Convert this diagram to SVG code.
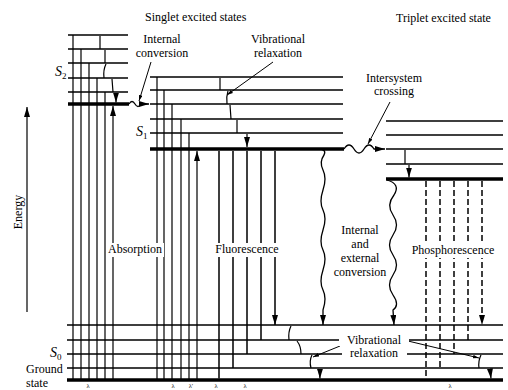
<svg xmlns="http://www.w3.org/2000/svg" width="508" height="390" viewBox="0 0 508 390">
<style>
.t{font-family:"Liberation Serif","Times New Roman",serif;font-size:12px;fill:#000}
.s{font-family:"Liberation Serif","Times New Roman",serif;font-size:14px;font-style:italic;fill:#000}
.sub{font-style:normal;font-size:9px}
.lam{font-family:"Liberation Serif","Times New Roman",serif;font-size:6.5px;fill:#000;text-anchor:middle}
.lv{stroke:#000;stroke-width:1.4;fill:none}
.th{stroke:#000;stroke-width:3.4;fill:none}
.ar{stroke:#000;stroke-width:1.2;fill:none;marker-end:url(#ah)}
.fl{stroke:#000;stroke-width:1.5;fill:none;marker-end:url(#ah)}
.ph{stroke:#000;stroke-width:1.5;fill:none;stroke-dasharray:6 3;marker-end:url(#ah)}
.vr{stroke:#000;stroke-width:1.2;fill:none;marker-end:url(#ah)}
.wv{stroke:#000;stroke-width:1.3;fill:none;marker-end:url(#ah)}
.co{stroke:#000;stroke-width:1;fill:none;marker-end:url(#sm)}
.bg{fill:#fff}
</style>
<defs>
<marker id="ah" viewBox="0 0 10 6" refX="10" refY="3" markerWidth="10" markerHeight="6" markerUnits="userSpaceOnUse" orient="auto"><path d="M0,0 L10,3 L0,6 z" fill="#000"/></marker>
<marker id="sm" viewBox="0 0 10 6" refX="10" refY="3" markerWidth="6" markerHeight="4" markerUnits="userSpaceOnUse" orient="auto"><path d="M0,0 L10,3 L0,6 z" fill="#000"/></marker>
</defs>
<rect width="508" height="390" fill="#fff"/>

<g id="S2-levels">
<path class="lv" d="M68,35H128M68,49H128M68,63H128M68,78H128M68,92H128"/>
<path class="th" d="M68,104H129"/>
</g>
<g id="S1-levels">
<path class="lv" d="M150,77H343M150,90H343M150,104H343M150,119H343M150,133H343"/>
<path class="th" d="M150,149H344"/>
</g>
<g id="T1-levels">
<path class="lv" d="M386,121H503M386,135H503M386,149H503M386,164H503"/>
<path class="th" d="M386,179H503"/>
</g>
<g id="S0-levels">
<path class="lv" d="M67,325H503M67,340H503M67,354H503M67,368H503"/>
<path class="th" d="M67,380H503"/>
</g>

<g id="connectors">
<path class="ar" d="M27,312V107"/>
<path class="ar" d="M73,379V35M81,379V49M89,379V63M97,379V78M105,379V92M113,379V106"/>
<path class="ar" d="M157,379V77M164,379V90M172,379V104M181,379V119M189,379V133M197,379V151"/>
<path class="vr" d="M100,36V49M105,50V63M106,64Q103,70 104,78M112,79L113,92M116,93V102.5"/>
<path class="vr" d="M220,78V90M228,91Q226,97 227,104M230,105L231,119M237,120V133M247,134V147"/>
<path class="vr" d="M405,150V164M409,165V177.5"/>
<path class="wv" d="M129,104q3,-5 6,0t6,0L149,104"/>
<path class="wv" d="M344,149q5,-8 10,0t10,0t10,0L385,149"/>
<path class="fl" d="M219,151V378.5M233,151V368M247,151V354M261,151V340M275,151V325"/>
<path class="ph" d="M426,181V378.5M440,181V368M454,181V354M468,181V340M482,181V325"/>
<path class="wv" d="M318,149Q327,149 324,155Q319,162 323,170T323,190T323,210T323,230T323,250T323,270T323,290T323,310L323,325"/>
<path class="wv" d="M387,180Q401,184 394,195Q386,205 393,215T393,235T393,255T393,275T393,295T393,310L394,325"/>
<path class="vr" d="M291,326Q288,332 289,340M297,341Q301,346 301,354M312,355Q309,361 311,368M318,369Q320,373 320,378.5"/>
<path class="vr" d="M481,355Q478,361 479,368M490,369L491,378.5"/>
<path class="co" d="M151,62L139,101"/>
<path class="co" d="M273,62L227,95"/>
<path class="co" d="M390,102L368,144"/>
<path class="co" d="M340,346L313,357"/>
<path class="co" d="M408,341L479,358"/>
</g>

<g id="labels">
<text class="t" x="145" y="21">Singlet excited states</text>
<text class="t" x="396" y="22">Triplet excited state</text>
<text class="t" x="162" y="43" text-anchor="middle">Internal</text>
<text class="t" x="162" y="57" text-anchor="middle">conversion</text>
<text class="t" x="278" y="43" text-anchor="middle">Vibrational</text>
<text class="t" x="278" y="57" text-anchor="middle">relaxation</text>
<text class="t" x="394" y="82" text-anchor="middle">Intersystem</text>
<text class="t" x="394" y="95" text-anchor="middle">crossing</text>
<text class="s" x="55" y="76">S<tspan class="sub" dy="3">2</tspan></text>
<text class="s" x="136" y="136">S<tspan class="sub" dy="3">1</tspan></text>
<text class="s" x="50" y="357">S<tspan class="sub" dy="3">0</tspan></text>
<text class="t" x="26" y="373">Ground</text>
<text class="t" x="26" y="387">state</text>
<text class="t" x="22" y="212" text-anchor="middle" font-size="11" transform="rotate(-90 22 212)">Energy</text>
<rect class="bg" x="106" y="243" width="58" height="14"/>
<text class="t" x="135" y="253" text-anchor="middle">Absorption</text>
<rect class="bg" x="214" y="243" width="66" height="14"/>
<text class="t" x="247" y="253" text-anchor="middle">Fluorescence</text>
<rect class="bg" x="410" y="244" width="86" height="14"/>
<text class="t" x="453" y="254" text-anchor="middle">Phosphorescence</text>
<text class="t" x="360" y="234" text-anchor="middle">Internal</text>
<text class="t" x="360" y="248" text-anchor="middle">and</text>
<text class="t" x="360" y="262" text-anchor="middle">external</text>
<text class="t" x="360" y="276" text-anchor="middle">conversion</text>
<rect class="bg" x="339" y="334" width="70" height="12"/>
<text class="t" x="374" y="344" text-anchor="middle">Vibrational</text>
<rect class="bg" x="342" y="348" width="65" height="12"/>
<text class="t" x="374" y="357" text-anchor="middle">relaxation</text>
<text class="lam" x="88" y="387.5">λ</text>
<text class="lam" x="173" y="387.5">λ</text>
<text class="lam" x="191" y="387.5">λ′</text>
<text class="lam" x="216" y="387.5">λ</text>
<text class="lam" x="245" y="387.5">λ</text>
<text class="lam" x="450" y="387.5">λ</text>
</g>
</svg>
